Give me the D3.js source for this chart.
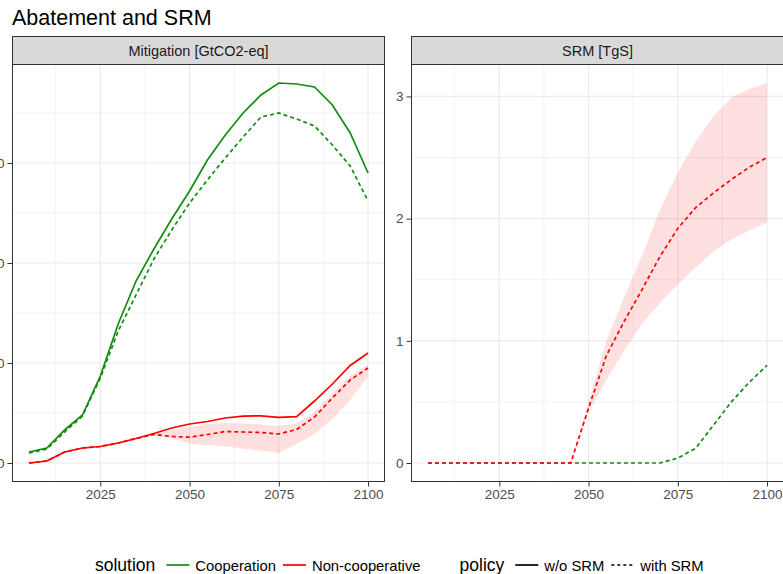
<!DOCTYPE html>
<html><head><meta charset="utf-8">
<script src="https://cdn.jsdelivr.net/npm/d3@7/dist/d3.min.js"></script>
<style>body{margin:0;background:#fff}svg{display:block}text{font-family:"Liberation Sans",Arial,Helvetica,sans-serif}</style>
</head><body><svg id="c" width="783" height="574"></svg>
<script>
// ---------- data ----------
const years = [2005,2010,2015,2020,2025,2030,2035,2040,2045,2050,2055,2060,2065,2070,2075,2080,2085,2090,2095,2100];
const xTicks = [2025,2050,2075,2100];
const mitTicks = [0,10,20,30];
const srmTicks = [0,1,2,3];

// Mitigation [GtCO2-eq]
const mitCoopNoSRM  = [1.1,1.5,3.3,4.8,8.7,13.9,18.2,21.4,24.4,27.2,30.3,32.8,35.0,36.8,38.0,37.9,37.6,35.8,33.0,29.0];
const mitCoopSRM    = [1.0,1.4,3.1,4.7,8.5,13.2,16.8,20.4,23.3,26.0,28.3,30.5,32.6,34.6,35.0,34.4,33.7,31.8,29.7,26.2];
const mitNonNoSRM   = [0,0.2,1.1,1.5,1.65,2.0,2.45,2.95,3.5,3.9,4.15,4.5,4.68,4.72,4.57,4.63,6.2,7.9,9.75,11.0];
const mitNonSRM     = [0,0.2,1.1,1.5,1.65,2.0,2.45,2.85,2.65,2.58,2.85,3.15,3.1,3.05,2.9,3.35,4.6,6.5,8.3,9.5];
const mitNonSRMLow  = [0,0.2,1.1,1.5,1.65,2.0,2.45,2.8,2.45,1.95,1.8,1.65,1.45,1.25,1.0,1.9,2.9,4.4,6.3,8.7];
const mitNonSRMHigh = [0,0.2,1.1,1.5,1.65,2.0,2.45,2.9,3.3,3.6,3.9,4.0,3.95,3.85,3.7,3.95,5.1,7.0,8.7,9.85];

// SRM [TgS]
const srmCoop     = [0,0,0,0,0,0,0,0,0,0,0,0,0,0,0.04,0.12,0.31,0.50,0.66,0.80];
const srmNon      = [0,0,0,0,0,0,0,0,0,0.45,0.88,1.16,1.42,1.69,1.92,2.09,2.21,2.32,2.42,2.50];
const srmNonLow   = [0,0,0,0,0,0,0,0,0,0.42,0.68,0.92,1.14,1.31,1.46,1.60,1.73,1.83,1.90,1.97];
const srmNonHigh  = [0,0,0,0,0,0,0,0,0,0.50,1.00,1.36,1.70,2.07,2.38,2.63,2.84,2.99,3.06,3.11];

const solutions = ["Cooperation","Non-cooperative"];
const policies = ["w/o SRM","with SRM"];

// ---------- styles ----------
const GREEN = "#128c12", RED = "#ff0000";
const DASH = "4,3";
const svg = d3.select("#c");

svg.append("text").attr("x",12).attr("y",25).attr("font-size",21.5).attr("fill","#000").text("Abatement and SRM");

const pTop = 64, pBottom = 482, stripTop = 36;

const panels = [
  {title:"Mitigation [GtCO2-eq]", x0:12, x1:385, ticks:mitTicks,
   ribbon:{lo:mitNonSRMLow, hi:mitNonSRMHigh},
   series:[{v:mitCoopNoSRM,c:GREEN,d:null},{v:mitCoopSRM,c:GREEN,d:DASH},
           {v:mitNonNoSRM,c:RED,d:null},{v:mitNonSRM,c:RED,d:DASH}]},
  {title:"SRM [TgS]", x0:411, x1:784, ticks:srmTicks,
   ribbon:{lo:srmNonLow, hi:srmNonHigh},
   series:[{v:srmCoop,c:GREEN,d:DASH},{v:srmNon,c:RED,d:DASH}]}
];

panels.forEach(p=>{
  const allV = [].concat(...p.series.map(s=>s.v), p.ribbon.lo, p.ribbon.hi);
  const [mn,mx] = d3.extent(allV);
  const ey = (mx-mn)*0.05;
  const [xa,xb] = d3.extent(years);
  const ex = (xb-xa)*0.05;
  const x = d3.scaleLinear().domain([xa-ex, xb+ex]).range([p.x0, p.x1]);
  const y = d3.scaleLinear().domain([mn-ey, mx+ey]).range([pBottom, pTop]);
  const g = svg.append("g");
  g.append("rect").attr("x",p.x0).attr("y",pTop).attr("width",p.x1-p.x0).attr("height",pBottom-pTop).attr("fill","#fff");
  // minor grid
  const yStep = p.ticks[1]-p.ticks[0];
  const yMinor = p.ticks.map(t=>t+yStep/2).filter(v=>y(v)>pTop && y(v)<pBottom);
  const xStep = xTicks[1]-xTicks[0];
  const xMinor = [xTicks[0]-xStep/2].concat(xTicks.map(t=>t-xStep/2).slice(1)).filter(v=>x(v)>p.x0&&x(v)<p.x1);
  g.selectAll(".hmin").data(yMinor).join("line").attr("x1",p.x0).attr("x2",p.x1)
    .attr("y1",d=>y(d)).attr("y2",d=>y(d)).attr("stroke","#ebebeb").attr("stroke-width",0.6);
  g.selectAll(".vmin").data(xMinor).join("line").attr("y1",pTop).attr("y2",pBottom)
    .attr("x1",d=>x(d)).attr("x2",d=>x(d)).attr("stroke","#ebebeb").attr("stroke-width",0.6);
  // major grid
  g.selectAll(".hmaj").data(p.ticks).join("line").attr("x1",p.x0).attr("x2",p.x1)
    .attr("y1",d=>y(d)).attr("y2",d=>y(d)).attr("stroke","#ebebeb").attr("stroke-width",1.2);
  g.selectAll(".vmaj").data(xTicks).join("line").attr("y1",pTop).attr("y2",pBottom)
    .attr("x1",d=>x(d)).attr("x2",d=>x(d)).attr("stroke","#ebebeb").attr("stroke-width",1.2);
  // ribbon
  const area = d3.area().x((d,i)=>x(years[i])).y0((d,i)=>y(p.ribbon.lo[i])).y1((d,i)=>y(p.ribbon.hi[i]));
  g.append("path").datum(years).attr("d",area).attr("fill",RED).attr("fill-opacity",0.12);
  // lines
  const line = d3.line().x((d,i)=>x(years[i])).y(d=>y(d));
  p.series.forEach(s=>{
    g.append("path").datum(s.v).attr("d",line).attr("fill","none").attr("stroke",s.c)
      .attr("stroke-width",1.7).attr("stroke-dasharray",s.d);
  });
  // border
  g.append("rect").attr("x",p.x0+0.5).attr("y",pTop+0.5).attr("width",p.x1-p.x0-1).attr("height",pBottom-pTop-1)
    .attr("fill","none").attr("stroke","#333").attr("stroke-width",1);
  // strip
  g.append("rect").attr("x",p.x0+0.5).attr("y",stripTop+0.5).attr("width",p.x1-p.x0-1).attr("height",pTop-stripTop)
    .attr("fill","#d9d9d9").attr("stroke","#333").attr("stroke-width",1);
  g.append("text").attr("x",(p.x0+p.x1)/2).attr("y",56).attr("text-anchor","middle")
    .attr("font-size",14.5).attr("fill","#1a1a1a").text(p.title);
  // axes
  const ya = d3.axisLeft(y).tickValues(p.ticks).tickSize(4.5).tickPadding(3).tickFormat(d3.format("d"));
  const ay = svg.append("g").attr("transform",`translate(${p.x0},0)`).call(ya);
  ay.select(".domain").remove();
  ay.selectAll(".tick line").attr("stroke","#333");
  ay.selectAll(".tick text").attr("font-size",13.5).attr("fill","#4d4d4d").attr("font-family",null);
  const xa2 = d3.axisBottom(x).tickValues(xTicks).tickSize(4.5).tickPadding(3).tickFormat(d3.format("d"));
  const ax = svg.append("g").attr("transform",`translate(0,${pBottom})`).call(xa2);
  ax.select(".domain").remove();
  ax.selectAll(".tick line").attr("stroke","#333");
  ax.selectAll(".tick text").attr("font-size",13.5).attr("fill","#4d4d4d").attr("font-family",null);
});

// ---------- legend ----------
const lg = svg.append("g");
let cx = 95;
const ly = 565, base = 570.5;
function addText(t, size){
  const el = lg.append("text").attr("x",cx).attr("y",base).attr("font-size",size).attr("fill","#000").text(t);
  cx += el.node().getComputedTextLength();
}
function addKey(color, dash){
  lg.append("line").attr("x1",cx).attr("x2",cx+23).attr("y1",ly).attr("y2",ly)
    .attr("stroke",color).attr("stroke-width",1.7).attr("stroke-dasharray",dash);
  cx += 23;
}
addText("solution",17.5); cx += 11;
addKey(GREEN,null); cx += 6; addText(solutions[0],14.8); cx += 7;
addKey(RED,null); cx += 6; addText(solutions[1],14.8);
cx += 39;
addText("policy",17.5); cx += 11;
addKey("#000",null); cx += 6; addText(policies[0],14.8); cx += 7;
addKey("#000","3,3"); cx += 6; addText(policies[1],14.8);
</script></body></html>
